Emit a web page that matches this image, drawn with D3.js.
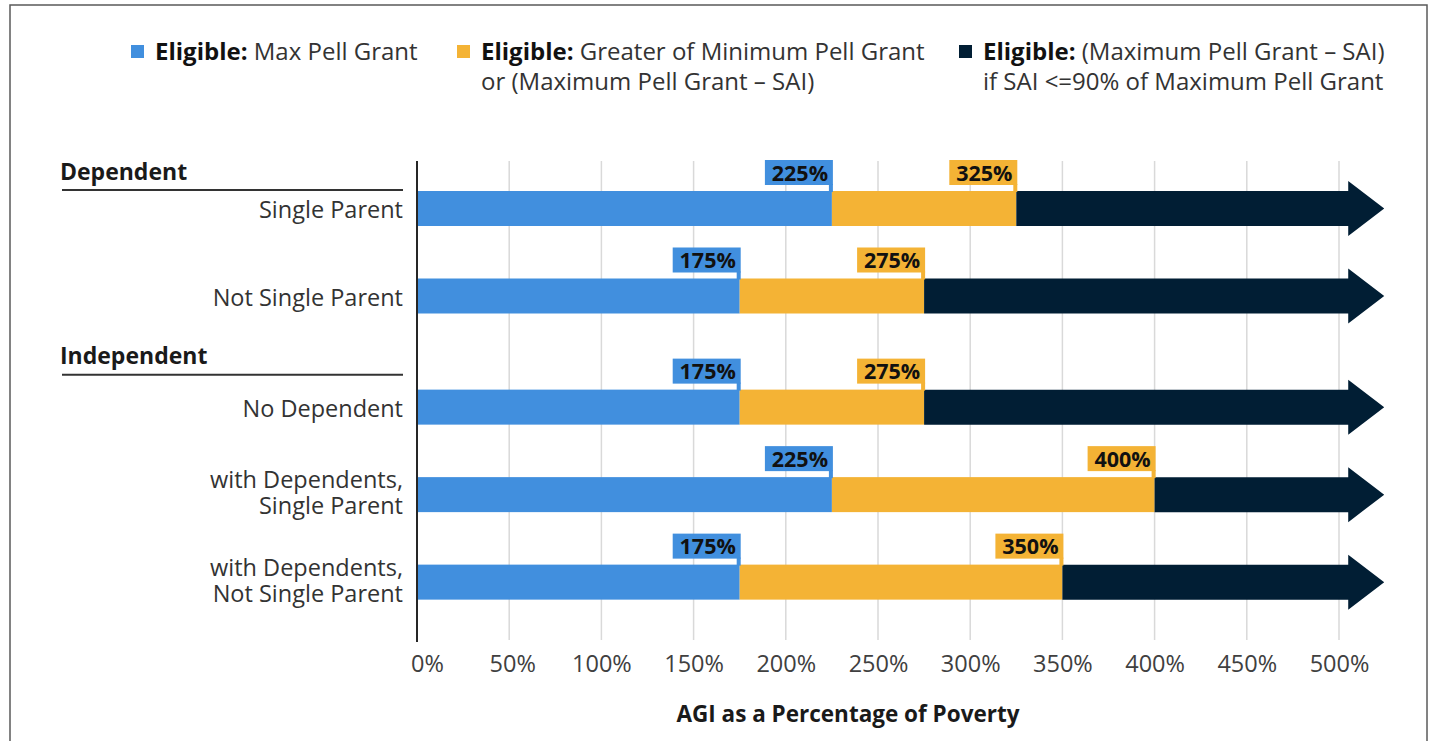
<!DOCTYPE html>
<html><head><meta charset="utf-8">
<script src="https://cdn.jsdelivr.net/npm/d3@7"></script>
<style>
html,body{margin:0;padding:0;background:#fff;}
svg{display:block;font-family:"Open Sans",Lato,sans-serif;}
</style></head>
<body>
<svg id="chart" width="1435" height="741"></svg>
<script>
// ---------- data ----------
const rowLabels = [["Single Parent"], ["Not Single Parent"], ["No Dependent"], ["with Dependents,", "Single Parent"], ["with Dependents,", "Not Single Parent"]];
const rowGroups = ["Dependent", "Dependent", "Independent", "Independent", "Independent"];
const groupNames = ["Dependent", "Independent"];
const maxPellUpTo = [225, 175, 175, 225, 175];      // Eligible: Max Pell Grant (end, % of poverty)
const minPellUpTo = [325, 275, 275, 400, 350];      // Eligible: Greater of Minimum Pell ... (end)
const openEndedTo = [505, 505, 505, 505, 505];      // Eligible: (Max Pell − SAI) ... continues (arrow)
const tickValues = [0, 50, 100, 150, 200, 250, 300, 350, 400, 450, 500];
const legendBold = ["Eligible:", "Eligible:", "Eligible:"];
const legendLines = [["Max Pell Grant"], ["Greater of Minimum Pell Grant", "or (Maximum Pell Grant \u2013 SAI)"], ["(Maximum Pell Grant \u2013 SAI)", "if SAI <=90% of Maximum Pell Grant"]];
const seriesColors = ["#418fde", "#f4b335", "#011e34"];
const xAxisTitle = "AGI as a Percentage of Poverty";

// ---------- layout ----------
const svg = d3.select("#chart");
const x = d3.scaleLinear().domain([0, 500]).range([417, 1339]);
const groupGap = 0.27;
const slot = rowGroups.map((g, i) => i + groupNames.indexOf(g) * groupGap);
const y = d3.scaleLinear().domain([0, 1]).range([208.5, 296]);
const barH = 35, headH = 55, headLen = 36;
const plotTop = 161, plotBottom = 642;

// frame
svg.append("rect").attr("x", 10).attr("y", 5).attr("width", 1417).attr("height", 760)
  .attr("fill", "none").attr("stroke", "#5a5a5a").attr("stroke-width", 1.5);

// gridlines
svg.append("g").selectAll("line").data(tickValues.filter(d => d > 0)).join("line")
  .attr("x1", d => x(d)).attr("x2", d => x(d)).attr("y1", plotTop).attr("y2", plotBottom - 2)
  .attr("stroke", "#d9d9d9").attr("stroke-width", 1.5);

// x axis
const xAxis = d3.axisBottom(x).tickValues(tickValues).tickFormat(d => d + "%").tickSize(0).tickPadding(0);
const gx = svg.append("g").attr("transform", `translate(0,${plotBottom})`).call(xAxis);
gx.select(".domain").remove();
gx.selectAll("text").attr("dy", null).attr("y", 30).attr("font-size", 23.5).attr("fill", "#404040")
  .attr("font-family", "'Open Sans', sans-serif").attr("text-anchor", "middle")
  .attr("dx", d => d === 0 ? 10 : (d === 50 ? 3 : 0));

svg.append("text").attr("x", 848).attr("y", 722).attr("text-anchor", "middle")
  .attr("font-size", 22.5).attr("font-weight", 700).attr("fill", "#1a1a1a").text(xAxisTitle);

// bars
const rows = rowLabels.map((l, i) => ({ i, label: l, a: maxPellUpTo[i], b: minPellUpTo[i], c: openEndedTo[i], cy: y(slot[i]) }));
const gBars = svg.append("g");
gBars.selectAll("rect.s0").data(rows).join("rect").attr("class", "s0")
  .attr("x", x(0)).attr("width", d => x(d.a) - x(0)).attr("y", d => d.cy - barH / 2).attr("height", barH).attr("fill", seriesColors[0]);
gBars.selectAll("rect.s1").data(rows).join("rect").attr("class", "s1")
  .attr("x", d => x(d.a)).attr("width", d => x(d.b) - x(d.a)).attr("y", d => d.cy - barH / 2).attr("height", barH).attr("fill", seriesColors[1]);
gBars.selectAll("path.s2").data(rows).join("path").attr("class", "s2")
  .attr("d", d => {
    const x0 = x(d.b), x1 = x(d.c), t = barH / 2, h = headH / 2;
    return `M${x0},${d.cy - t}H${x1}V${d.cy - h}L${x1 + headLen},${d.cy}L${x1},${d.cy + h}V${d.cy + t}H${x0}Z`;
  }).attr("fill", seriesColors[2]);

// y axis line
svg.append("line").attr("x1", x(0)).attr("x2", x(0)).attr("y1", plotTop).attr("y2", plotBottom)
  .attr("stroke", "#262626").attr("stroke-width", 2);

// value callouts
const callouts = [];
rows.forEach(d => { callouts.push({ v: d.a, c: seriesColors[0], cy: d.cy }); callouts.push({ v: d.b, c: seriesColors[1], cy: d.cy }); });
const boxW = 68, boxH = 25, boxGap = 6;
const gC = svg.append("g");
callouts.forEach(o => {
  const r = x(o.v) + 1, top = o.cy - barH / 2 - boxGap - boxH;
  gC.append("rect").attr("x", r - boxW).attr("y", top).attr("width", boxW).attr("height", boxH).attr("fill", o.c);
  gC.append("rect").attr("x", r - 4).attr("y", top + boxH - 1).attr("width", 4).attr("height", boxGap + 2).attr("fill", o.c);
  gC.append("text").attr("x", r - boxW / 2 + 1).attr("y", top + boxH / 2 + 8).attr("text-anchor", "middle")
    .attr("font-size", 21.5).attr("font-weight", 700).attr("fill", "#111").text(o.v + "%");
});

// row labels (multi-line labels as one text element with tspans)
const gY = svg.append("g");
rows.forEach(d => {
  const n = d.label.length, lh = 26, base = n === 1 ? 9.5 : 6.5;
  const t = gY.append("text").attr("text-anchor", "end").attr("font-size", 23.5).attr("fill", "#333");
  d.label.forEach((s, k) => {
    t.append("tspan").attr("x", 403).attr("y", d.cy + base + (k - (n - 1) / 2) * lh).text(s);
  });
});
// group headers
const headerLift = [18, 32];
groupNames.forEach((g, gi) => {
  const first = rows.find(r => rowGroups[r.i] === g);
  const uy = first.cy - barH / 2 - headerLift[gi] + 17;
  svg.append("line").attr("x1", 62).attr("x2", 403).attr("y1", uy).attr("y2", uy).attr("stroke", "#333").attr("stroke-width", 2);
  svg.append("text").attr("x", 60).attr("y", uy - 10.5).attr("font-size", 23).attr("font-weight", 700).attr("fill", "#1a1a1a").text(g);
});

// legend
const legX = [131, 457, 959];
legendLines.forEach((lines, i) => {
  const g = svg.append("g");
  g.append("rect").attr("x", legX[i]).attr("y", 45).attr("width", 13).attr("height", 13).attr("fill", seriesColors[i]);
  const t = g.append("text").attr("font-size", 24).attr("fill", "#333");
  const l1 = t.append("tspan").attr("x", legX[i] + 24).attr("y", 60);
  l1.append("tspan").attr("font-weight", 700).attr("fill", "#111").text(legendBold[i] + " ");
  l1.append("tspan").text(lines[0]);
  if (lines[1]) t.append("tspan").attr("x", legX[i] + 24).attr("y", 90).text(lines[1]);
});
</script>
</body></html>
